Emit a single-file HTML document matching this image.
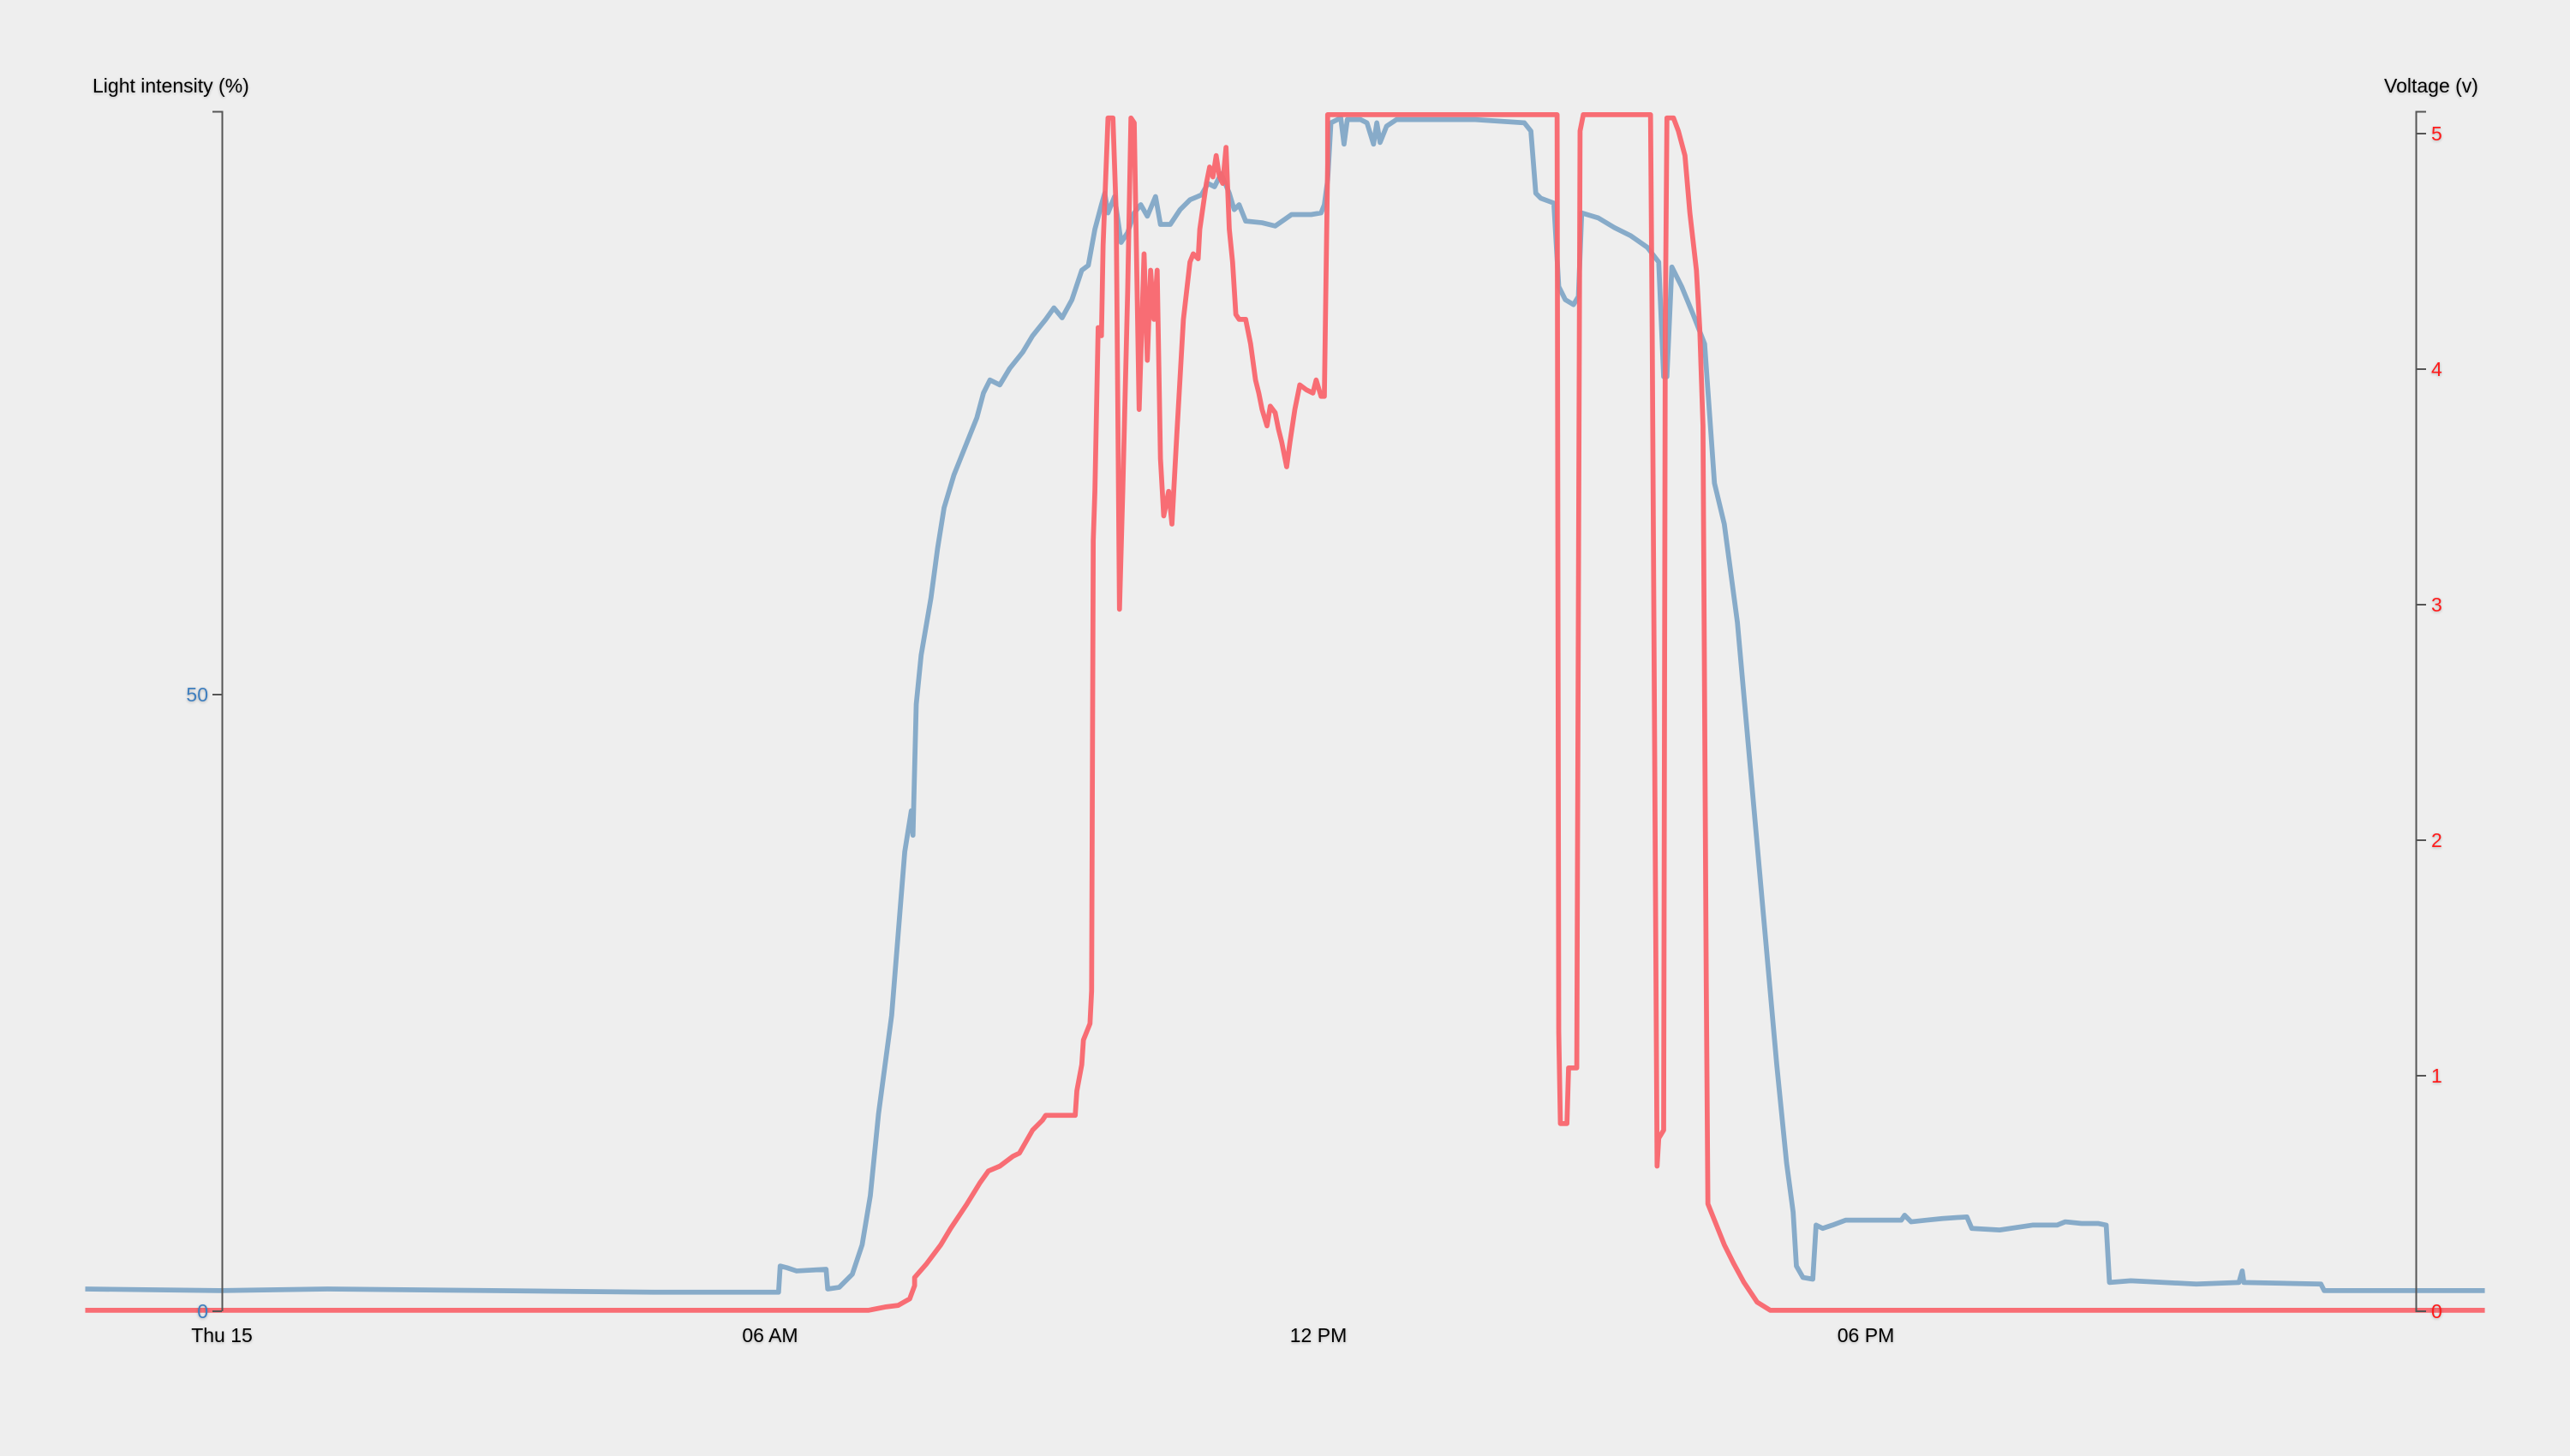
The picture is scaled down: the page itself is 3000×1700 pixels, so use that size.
<!DOCTYPE html>
<html><head><meta charset="utf-8"><style>
html,body{margin:0;padding:0;background:#eeeeee;}
svg{display:block;}
text{font-family:"Liberation Sans",Arial,sans-serif;font-size:23px;text-shadow:0 1px 3px rgba(0,0,0,0.25);}
</style></head><body>
<svg width="3000" height="1700" viewBox="0 0 3000 1700" xmlns="http://www.w3.org/2000/svg">
<rect width="3000" height="1700" fill="#eeeeee"/>
<g transform="scale(1.9133,1.9123)" fill="none" stroke-linejoin="round">
<polyline stroke="#87abc9" stroke-width="3" points="52,787 135,788 200,787 300,788 400,789 475,789 476,773 480,774 486,776 504,775 505,787 512,786 520,778 526,760 531,730 536,680 544,620 548,570 552,520 556,495 557,510 558,470 559,430 562,400 568,365 572,335 576,310 582,290 590,270 596,255 600,240 604,232 610,235 616,225 624,215 630,205 638,195 643,188 648,194 654,183 660,165 664,162 668,140 672,125 674,118 676,130 680,120 684,148 688,142 692,130 696,125 700,132 705,120 708,137 714,137 720,128 726,122 733,119 737,112 741,114 745,106 750,118 753,128 756,125 760,135 770,136 778,138 788,131 800,131 806,130 808,125 810,110 812,75 818,72 820,88 822,73 830,73 834,75 838,88 840,75 842,87 846,77 852,73 870,73 900,73 930,75 934,80 937,118 940,121 948,124 951,175 955,183 960,186 963,181 965,130 975,133 985,139 995,144 1005,151 1012,160 1015,230 1017,230 1020,163 1026,175 1033,192 1040,210 1046,295 1052,320 1060,380 1068,470 1076,560 1084,650 1090,710 1094,740 1096,773 1100,780 1106,781 1108,748 1112,750 1118,748 1126,745 1140,745 1160,745 1162,742 1166,746 1175,745 1185,744 1200,743 1203,750 1220,751 1240,748 1255,748 1260,746 1270,747 1280,747 1285,748 1287,783 1300,782 1340,784 1366,783 1368,776 1369,783 1416,784 1418,788 1516,788"/>
<polyline stroke="#f8656d" stroke-opacity="0.95" stroke-width="3" points="52,800 530,800 540,798 548,797 555,793 558,785 558,780 565,772 574,760 580,750 590,735 598,722 603,715 610,712 614,709 618,706 622,704 626,697 630,690 636,684 638,681 656,681 657,666 660,650 661,635 665,625 666,605 667,330 668,300 670,200 672,205 673,150 676,72 679,72 681,130 683,372 685,300 688,178 690,72 692,75 695,250 698,155 700,220 702,165 704,195 706,165 708,280 710,315 713,300 715,320 718,265 722,195 726,160 728,155 731,158 732,140 736,112 738,102 740,108 742,95 744,108 746,112 748,90 750,140 752,160 754,192 756,195 760,195 763,210 766,232 768,240 770,250 773,260 775,248 778,252 780,262 782,270 785,285 787,270 790,250 793,235 797,238 801,240 803,232 806,242 808,242 810,100 810,70 950,70 951,630 952,686 956,686 957,652 962,652 964,80 966,70 1007,70 1008,200 1011,712 1012,695 1015,690 1016,200 1017,72 1021,72 1024,80 1028,95 1031,130 1035,165 1037,200 1039,260 1041,600 1042,735 1046,745 1052,760 1058,772 1064,783 1072,795 1080,800 1516,800"/>
</g>
<g stroke="#555" stroke-width="2" fill="none">
<path d="M248,130.5H259.5V1531"/>
<path d="M2832,130.5H2820.5V1531H2832"/>
<path d="M248,1531H259M248,811H259"/>
<path d="M2820,156H2832M2820,431H2832M2820,706H2832M2820,981H2832M2820,1256H2832"/>
</g>
<g fill="#000">
<text x="108" y="108">Light intensity (%)</text>
<text x="2783" y="108">Voltage (v)</text>
<text x="259" y="1567" text-anchor="middle">Thu 15</text>
<text x="899" y="1567" text-anchor="middle">06 AM</text>
<text x="1539" y="1567" text-anchor="middle">12 PM</text>
<text x="2178" y="1567" text-anchor="middle">06 PM</text>
</g>
<g fill="#3f7fbf" text-anchor="end">
<text x="243" y="1539">0</text>
<text x="243" y="819">50</text>
</g>
<g fill="#ff1a1a">
<text x="2838" y="1539">0</text>
<text x="2838" y="1264">1</text>
<text x="2838" y="989">2</text>
<text x="2838" y="714">3</text>
<text x="2838" y="439">4</text>
<text x="2838" y="164">5</text>
</g>
</svg>
</body></html>
